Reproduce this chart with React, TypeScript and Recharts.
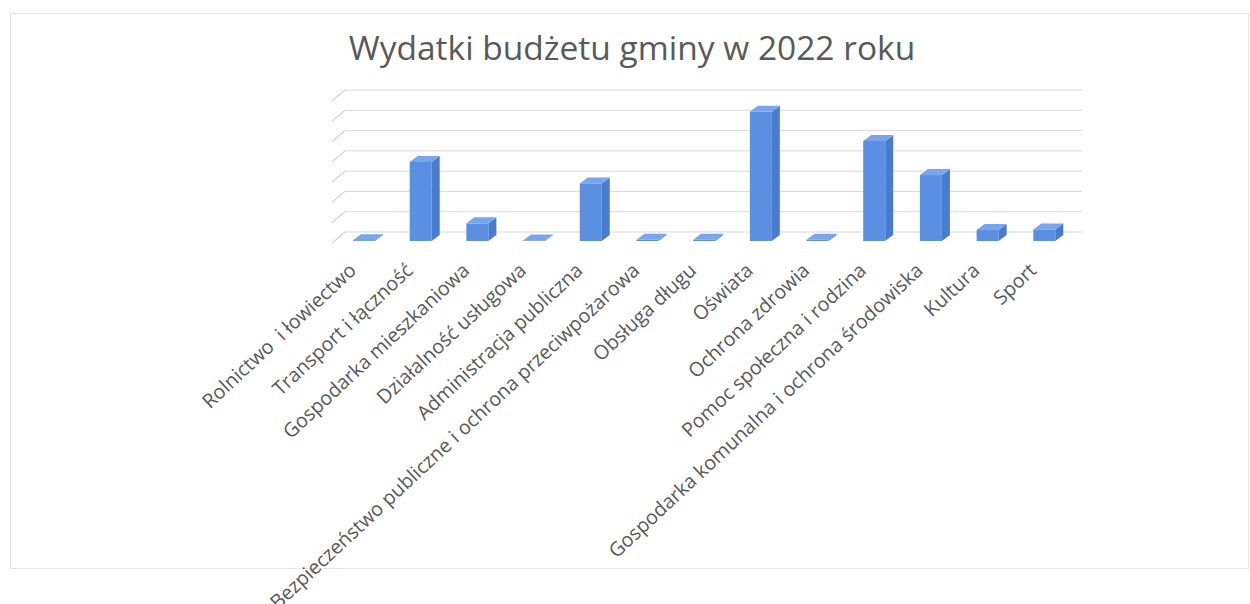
import React from "react";
import { Bar, BarChart, CartesianGrid, XAxis, YAxis } from "recharts";

// Kategorie wydatków (oś X)
const kategorie = [
  "Rolnictwo  i łowiectwo",
  "Transport i łączność",
  "Gospodarka mieszkaniowa",
  "Działalność usługowa",
  "Administracja publiczna",
  "Bezpieczeństwo publiczne i ochrona przeciwpożarowa",
  "Obsługa długu",
  "Oświata",
  "Ochrona zdrowia",
  "Pomoc społeczna i rodzina",
  "Gospodarka komunalna i ochrona środowiska",
  "Kultura",
  "Sport",
];

// Wartości (jednostka = jedna linia siatki; etykiety osi Y ukryte)
const wydatki = [0.04, 3.9, 0.87, 0.03, 2.84, 0.06, 0.06, 6.37, 0.06, 4.93, 3.25, 0.54, 0.57];

const yTicks = [0, 1, 2, 3, 4, 5, 6, 7];

const data = kategorie.map((name, i) => ({ name, value: wydatki[i] }));

const TEXT = "#595959";
const FONT = "'Open Sans', sans-serif";

// głębokość bryły słupka i przesunięcie tylnej ściany
const BAR_DX = 8;
const BAR_DY = 6;
const WALL = 9;

function Bar3D(props: any) {
  const { x, y, width, height } = props;
  const top = `${x},${y} ${x + BAR_DX},${y - BAR_DY} ${x + width + BAR_DX},${y - BAR_DY} ${x + width},${y}`;
  const side = `${x + width},${y} ${x + width + BAR_DX},${y - BAR_DY} ${x + width + BAR_DX},${y + height - BAR_DY} ${x + width},${y + height}`;
  return (
    <g>
      <rect x={x} y={y} width={width} height={Math.max(height, 0)} fill="#5b8fe2" />
      <polygon points={side} fill="#4a7ccd" />
      <polygon points={top} fill="#7aa5ec" />
    </g>
  );
}

function WallLine(props: any) {
  const { x1, x2, y1, index } = props;
  return (
    <g key={`wall-${index}`}>
      <line x1={x1 + WALL} x2={x2 + WALL} y1={y1 - WALL} y2={y1 - WALL} stroke="#d9d9d9" strokeWidth={1} />
      <line x1={x1 - 4} x2={x1 + WALL} y1={y1 + 2} y2={y1 - WALL} stroke="#bfbfbf" strokeWidth={1} />
    </g>
  );
}

function CategoryTick(props: any) {
  const { x, y, payload } = props;
  const ax = x - 7;
  const ay = y + 23;
  return (
    <text
      x={ax}
      y={ay}
      transform={`rotate(-43, ${ax}, ${ay})`}
      textAnchor="end"
      fill={TEXT}
      fontSize={19.7}
      fontFamily={FONT}
      style={{ whiteSpace: "pre" }}
    >
      {payload.value}
    </text>
  );
}

export default function App() {
  return (
    <div
      style={{
        position: "fixed",
        left: 0,
        top: 0,
        width: 1250,
        height: 604,
        background: "#fff",
        overflow: "hidden",
      }}
    >
      <div
        style={{
          position: "absolute",
          left: 10,
          top: 13,
          width: 1237,
          height: 554,
          border: "1px solid #e4e4e4",
        }}
      />
      <div
        style={{
          position: "absolute",
          left: 0,
          top: 24,
          width: 1264,
          textAlign: "center",
          fontFamily: FONT,
          fontSize: 33.5,
          color: TEXT,
          lineHeight: "46px",
        }}
      >
        Wydatki budżetu gminy w 2022 roku
      </div>
      <div style={{ position: "absolute", left: 0, top: 0 }}>
        <BarChart
          width={1250}
          height={604}
          data={data}
          margin={{ top: 99, right: 177, bottom: 63, left: 336 }}
          barSize={22}
        >
          <CartesianGrid vertical={false} horizontal={WallLine} />
          <XAxis
            dataKey="name"
            height={300}
            interval={0}
            axisLine={false}
            tickLine={false}
            tick={<CategoryTick />}
          />
          <YAxis hide domain={[0, 7]} ticks={yTicks} interval={0} />
          <Bar dataKey="value" shape={<Bar3D />} isAnimationActive={false} />
        </BarChart>
      </div>
    </div>
  );
}
